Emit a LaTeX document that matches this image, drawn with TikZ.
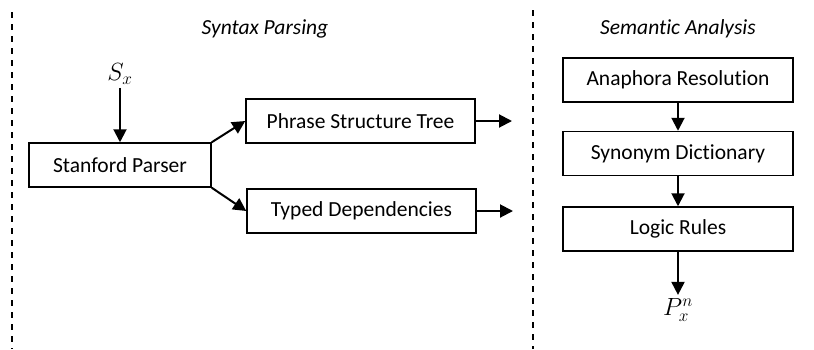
\documentclass[tikz,border=0pt]{standalone}
\usepackage{fontspec}
\setmainfont{Carlito}[Ligatures=NoCommon]
\usetikzlibrary{positioning,arrows.meta}

\begin{document}
\begin{tikzpicture}[x=1pt,y=-1pt,>={Triangle[length=13pt,width=13pt]},
        box/.style={draw,line width=1.5pt,minimum width=230pt,minimum height=44pt,inner sep=0pt,font=\fontsize{21.5}{24}\selectfont},
        title/.style={font=\fontsize{21.5}{24}\selectfont\itshape},
        var/.style={font=\fontsize{24}{28}\selectfont},
        divider/.style={line width=1.2pt,dash pattern=on 6pt off 6pt}]
                \useasboundingbox (0,0) rectangle (814,349);
                \draw[divider] (12,12) -- (12,349);
                \draw[divider] (533,10) -- (533,349);
                \node[title] (syntax) at (265,29) {Syntax Parsing};
                \node[title] (semantic) at (678,29) {Semantic Analysis};
                % syntax side
                \node[var] (sx) at (120,74) {$S_x$};
                \node[box,minimum width=182pt] (parser) at (120,165) {Stanford Parser};
                \node[box,minimum width=229pt] (tree) at (360.5,121) {Phrase Structure Tree};
                \node[box,minimum width=229pt] (deps) at (361.5,211) {Typed Dependencies};
                \coordinate (treeout) at (512,121);
                \coordinate (depsout) at (513,211);
                % semantic side
                \node[box] (anaphora) at (678,80) {Anaphora Resolution};
                \node[box] (synonym) [below=28pt of anaphora] {Synonym Dictionary};
                \node[box] (logic) [below=30pt of synonym] {Logic Rules};
                \node[var] (px) at (678,310) {$P_x^n$};
                \path[->,line width=2pt]
                    (sx) edge (parser)
                    (parser.north east) edge (tree.west)
                    (parser.south east) edge (deps.west)
                    (tree) edge (treeout)
                    (deps) edge (depsout)
                    (anaphora) edge (synonym)
                    (synonym) edge (logic)
                    (logic) edge (px);
            \end{tikzpicture}
\end{document}
